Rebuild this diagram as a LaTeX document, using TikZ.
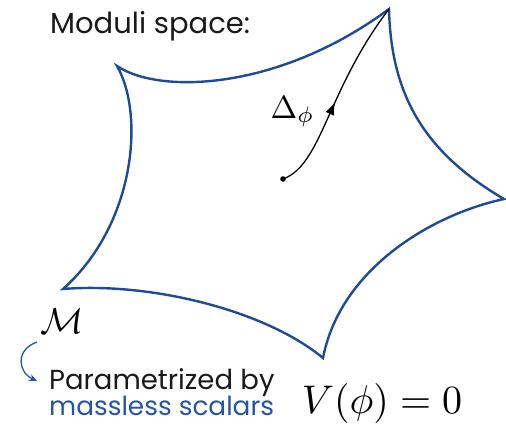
\documentclass[tikz,border=0pt]{standalone}
\usepackage{fontspec}
\setsansfont{Poppins}
\usetikzlibrary{decorations.markings,arrows.meta}
\definecolor{outblue}{RGB}{30,75,150}
\definecolor{txtblue}{RGB}{35,85,165}
\definecolor{ink}{RGB}{25,25,25}
\tikzset{
  outline/.style={draw=outblue,line width=2.4pt,line join=miter},
  lbl/.style={inner sep=0pt,anchor=base west,text=ink,font=\sffamily\fontsize{#1}{30}\selectfont},
  mathlbl/.style={inner sep=0pt,anchor=base west,scale=#1},
  flow/.style={draw=black,line width=1.3pt,postaction={decorate},
    decoration={markings,mark=at position 0.47 with {\arrow{Latex[length=13pt,width=9pt]}}}},
}
\begin{document}
\begin{tikzpicture}[x=1pt,y=-1pt]
\useasboundingbox (0,0) rectangle (506,440);
\coordinate (A) at (117,66);
\coordinate (B) at (389,9);
\coordinate (C) at (504,199);
\coordinate (D) at (323,358);
\coordinate (E) at (63,289);
\draw[outline] (A) .. controls (160,95) and (280,90) .. (B)
  .. controls (391,90) and (420,150) .. (C)
  .. controls (430,215) and (340,270) .. (D)
  .. controls (265,310) and (150,282) .. (E)
  .. controls (135,225) and (145,115) .. cycle;
\coordinate (P) at (283,179);
\fill (P) circle (2.8pt);
\draw[flow] (P) .. controls (322,165) and (327,90) .. (B);
\node[mathlbl=3.2] (delta) at (270,118) {$\Delta_\phi$};
\node[lbl=29] (title) at (50,33) {Moduli space:};
\node[mathlbl=3.6] (M) at (40,333) {$\mathcal{M}$};
\node[lbl=27.5] (param) at (49,389) {Parametrized by};
\node[lbl=26.3,text=txtblue] (mass) at (49,415) {massless scalars};
\node[mathlbl=4] (V) at (301,413) {$V(\phi)=0$};
\coordinate (m1) at (37,342);
\coordinate (m2) at (37,381);
\draw[draw=txtblue,line width=1.3pt,-{Stealth[length=8pt,width=7pt]}] (m1) .. controls (15,350) and (18,372) .. (m2);
\end{tikzpicture}
\end{document}
